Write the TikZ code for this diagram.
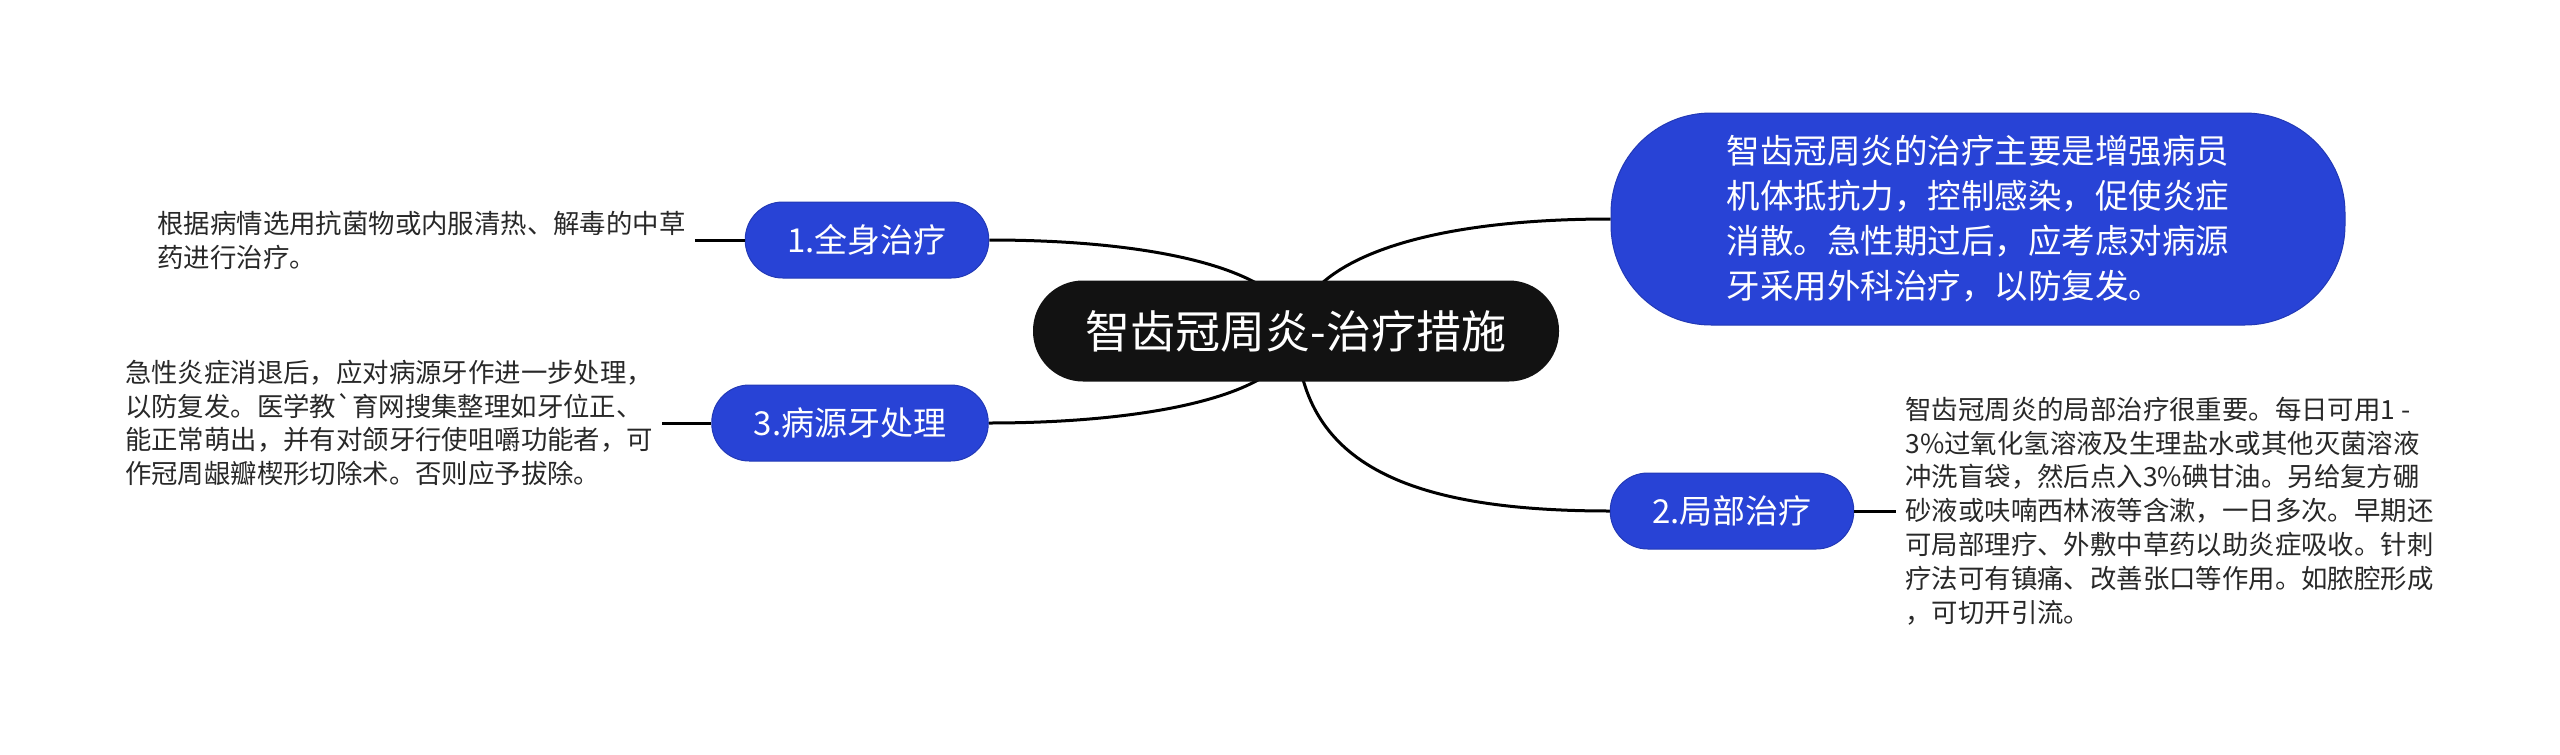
\documentclass[tikz,border=0pt]{standalone}
\usepackage{fontspec}
\setmainfont{Noto Sans CJK SC}
\usetikzlibrary{positioning,backgrounds}
\definecolor{branchblue}{RGB}{40,67,214}
\definecolor{leafgray}{RGB}{40,40,40}

\begin{document}
\begin{tikzpicture}[
        x=1pt, y=-1pt,
        root/.style={fill=black!93, text=white, rounded corners=50pt, minimum width=526pt, minimum height=101pt, font=\fontsize{45}{54}\selectfont},
        topic/.style={fill=branchblue, draw=branchblue!85!black, line width=1pt, text=white, rounded corners=100pt, minimum width=734pt, minimum height=212pt, align=left, font=\fontsize{33.5}{45}\selectfont},
        branch/.style={fill=branchblue, draw=branchblue!85!black, line width=1pt, text=white, rounded corners=37.5pt, minimum height=76pt, inner xsep=42pt, font=\fontsize{33}{40}\selectfont},
        leaf/.style={text=leafgray, align=left, inner sep=9pt, font=\fontsize{26.4}{33.8}\selectfont},
        link/.style={line width=3pt, black}
    ]
        \useasboundingbox (0,0) rectangle (2560,755);

        \node[root] (root) at (1296,331) {智齿冠周炎-治疗措施};
        \node[topic] (intro) at (1978,219) {智齿冠周炎的治疗主要是增强病员\\机体抵抗力，控制感染，促使炎症\\消散。急性期过后，应考虑对病源\\牙采用外科治疗，以防复发。};

        \node[branch] (whole) at (867,240) {1.全身治疗};
        \node[branch] (tooth) at (850,423) {3.病源牙处理};
        \node[branch] (local) at (1732,511) {2.局部治疗};

        \node[leaf, left=50pt of whole] (wholetxt) {根据病情选用抗菌物或内服清热、解毒的中草\\药进行治疗。};
        \node[leaf, left=49pt of tooth] (toothtxt) {急性炎症消退后，应对病源牙作进一步处理，\\以防复发。医学教\textasciigrave 育网搜集整理如牙位正、\\能正常萌出，并有对颌牙行使咀嚼功能者，可\\作冠周龈瓣楔形切除术。否则应予拔除。};
        \node[leaf, right=42pt of local] (localtxt) {智齿冠周炎的局部治疗很重要。每日可用1 -\\3\%过氧化氢溶液及生理盐水或其他灭菌溶液\\冲洗盲袋，然后点入3\%碘甘油。另给复方硼\\砂液或呋喃西林液等含漱，一日多次。早期还\\可局部理疗、外敷中草药以助炎症吸收。针刺\\疗法可有镇痛、改善张口等作用。如脓腔形成\\，可切开引流。};

        \begin{scope}[on background layer]
            \draw[link] (root.center) .. controls +(-6,-60) and +(171,0) .. (whole.east);
            \draw[link] (root.center) .. controls +(4,-61) and +(-211,0) .. (intro.west);
            \draw[link] (root.center) .. controls +(-1,64) and +(161,0) .. (tooth.east);
            \draw[link] (root.center) .. controls +(4,129) and +(-210,0) .. (local.west);
        \end{scope}

        \draw[link] (wholetxt) -- (whole);
        \draw[link] (toothtxt) -- (tooth);
        \draw[link] (local) -- (localtxt);
    \end{tikzpicture}
\end{document}
